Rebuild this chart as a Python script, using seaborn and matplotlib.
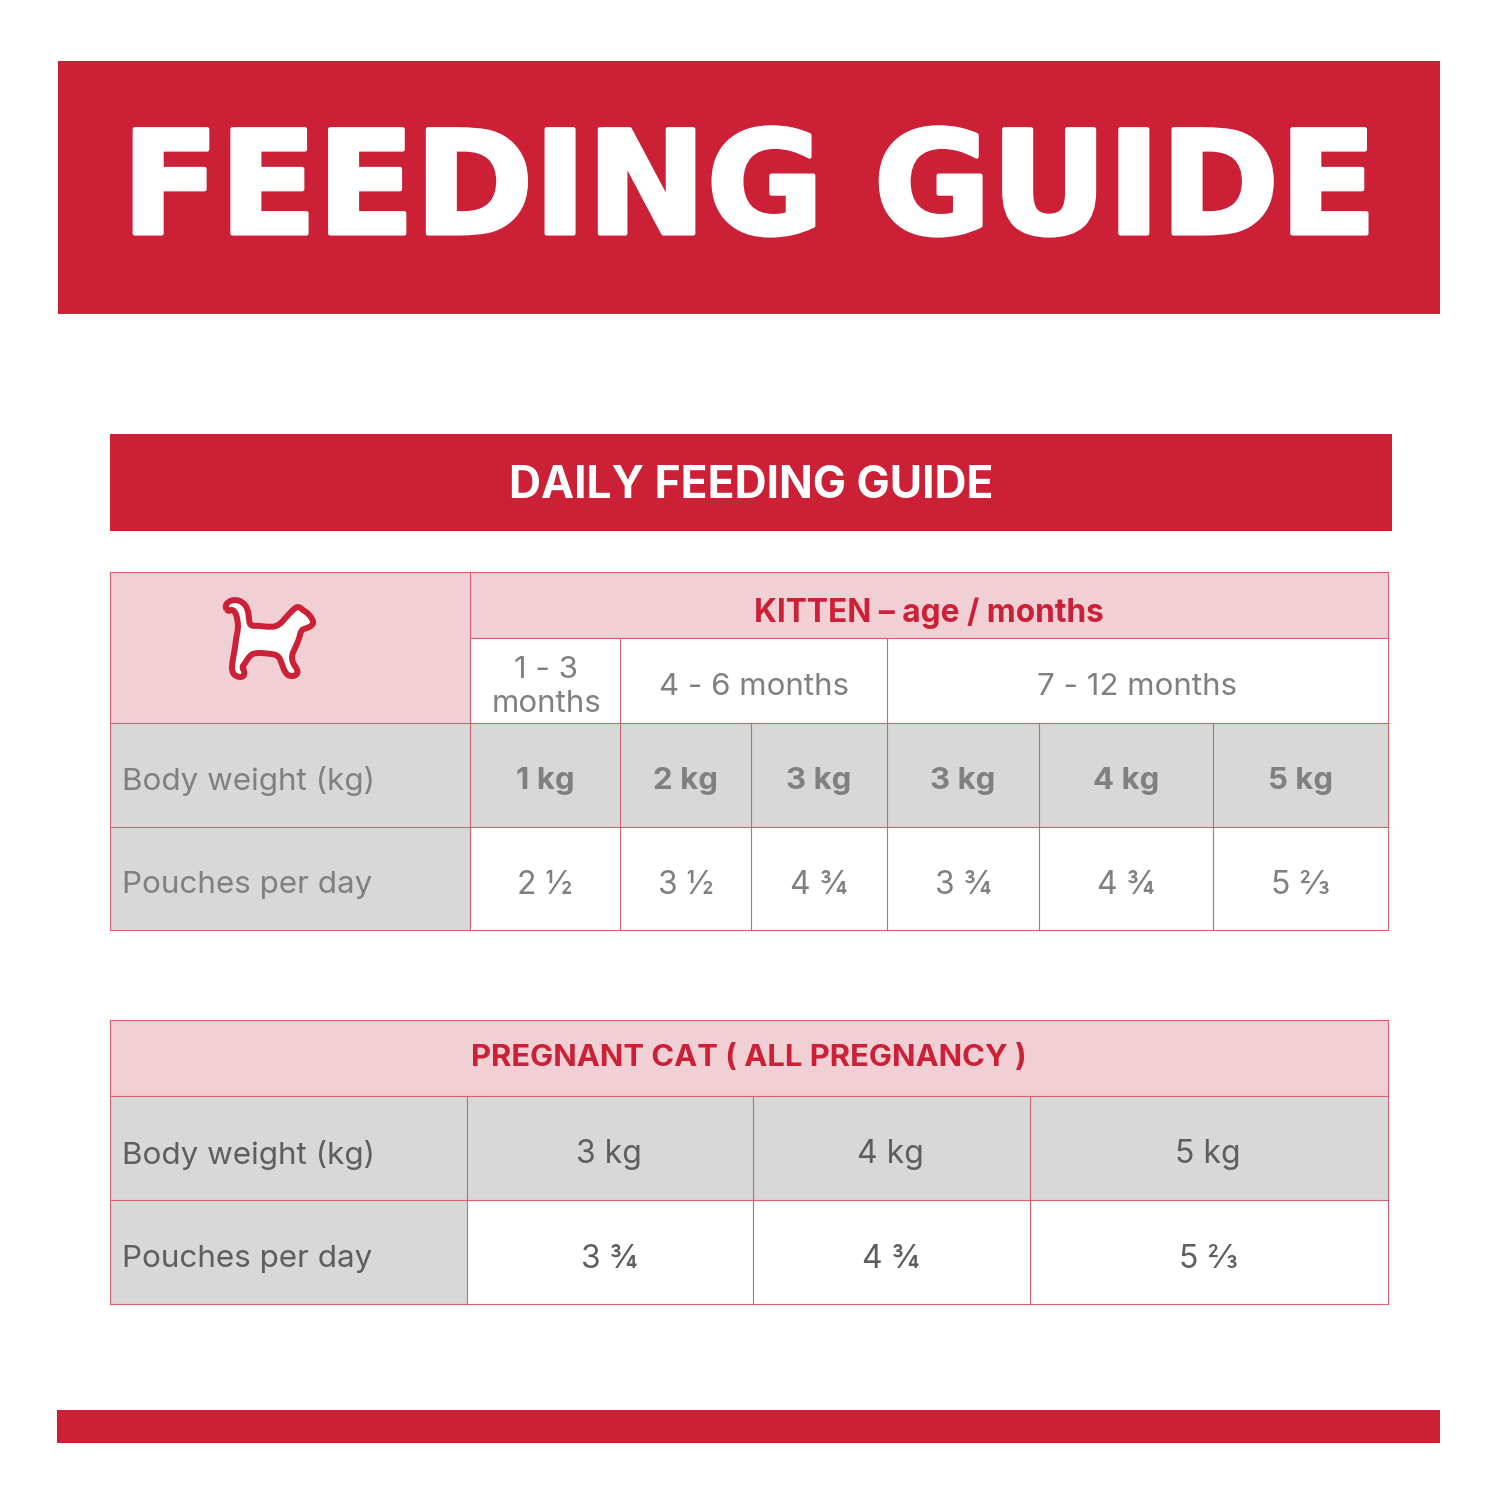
import matplotlib
matplotlib.use("Agg")
import matplotlib.pyplot as plt
import matplotlib.patheffects as pe
from matplotlib.patches import Rectangle, PathPatch
from matplotlib.path import Path
import seaborn as sns

# values
kitten_ages = ["1 - 3\nmonths", "4 - 6 months", "7 - 12 months"]
kitten_weights = ["1 kg", "2 kg", "3 kg", "3 kg", "4 kg", "5 kg"]
kitten_pouches = ["2 ½", "3 ½", "4 ¾", "3 ¾", "4 ¾", "5 ⅔"]
pregnant_weights = ["3 kg", "4 kg", "5 kg"]
pregnant_pouches = ["3 ¾", "4 ¾", "5 ⅔"]

RED = "#CB2036"
PINK = "#F0CFD5"
GREY = "#D8D8D8"
LINE = "#DA5F70"
TXT1 = "#808080"
TXT2 = "#5E5E5E"

sns.set_theme(style="white")
plt.rcParams["font.family"] = ["Inter", "DejaVu Sans"]

fig, ax = plt.subplots(figsize=(15, 15), dpi=100)
fig.subplots_adjust(0, 0, 1, 1)
ax.set_xlim(0, 1500)
ax.set_ylim(1500, 0)
ax.axis("off")


def box(x0, y0, x1, y1, color):
    ax.add_patch(Rectangle((x0, y0), x1 - x0, y1 - y0, fc=color, ec="none", zorder=1))


def label(x, y, s, size, color, weight="normal", ha="center", **kw):
    return ax.text(x, y, s, fontsize=size, color=color, fontweight=weight, ha=ha, va="center", zorder=4, **kw)


def rule(x0, y0, x1, y1):
    ax.plot([x0 - 0.5, x1 - 0.5], [y0 - 0.5, y1 - 0.5], color=LINE, lw=0.8, zorder=3, solid_capstyle="projecting")


# banners
box(58, 61, 1440, 314, RED)
box(110, 434, 1392, 531, RED)
box(57, 1410, 1440, 1443, RED)
title = label(749, 194, "FEEDING GUIDE", 103, "white", weight="bold", family="DejaVu Sans")
title.set_path_effects([pe.withStroke(linewidth=3, foreground="white", capstyle="round", joinstyle="round")])
label(751, 486, "DAILY FEEDING GUIDE", 32, "white", weight="bold")

# kitten table
cols = [110, 470, 620, 751, 887, 1039, 1213, 1388]
rows = [572, 638, 723, 827, 930]
box(cols[0], rows[0], cols[1], rows[2], PINK)
box(cols[1], rows[0], cols[-1], rows[1], PINK)
box(cols[0], rows[2], cols[-1], rows[3], GREY)
box(cols[0], rows[3], cols[1], rows[4], GREY)

for y in rows:
    rule(cols[1] if y == rows[1] else cols[0], y, cols[-1], y)
for x in (cols[0], cols[1], cols[-1]):
    rule(x, rows[0], x, rows[-1])
for x, top in zip(cols[2:-1], [rows[1], rows[2], rows[1], rows[2], rows[2]]):
    rule(x, top, x, rows[-1])

label(929, 613, "KITTEN – age / months", 22.8, RED, weight="bold")

age_centers = [546, 754, 1137]
for i, txt in enumerate(kitten_ages):
    label(age_centers[i], 687, txt, 22.5, TXT1, linespacing=1.27)

label(122, 781, "Body weight (kg)", 22.6, TXT1, ha="left")
label(122, 885, "Pouches per day", 22.6, TXT1, ha="left")
for i, (w, p) in enumerate(zip(kitten_weights, kitten_pouches)):
    cx = (cols[i + 1] + cols[i + 2]) / 2
    label(cx, 781, w, 22.5, TXT1, weight="bold")
    label(cx, 885, p, 23, TXT1)

# pregnant table
cols2 = [110, 467, 753, 1030, 1388]
rows2 = [1020, 1096, 1200, 1304]
box(cols2[0], rows2[0], cols2[-1], rows2[1], PINK)
box(cols2[0], rows2[1], cols2[-1], rows2[2], GREY)
box(cols2[0], rows2[2], cols2[1], rows2[3], GREY)
for y in rows2:
    rule(cols2[0], y, cols2[-1], y)
for x in (cols2[0], cols2[-1]):
    rule(x, rows2[0], x, rows2[-1])
for x in cols2[1:-1]:
    rule(x, rows2[1], x, rows2[-1])

label(749, 1058, "PREGNANT CAT ( ALL PREGNANCY )", 22.3, RED, weight="bold")
label(122, 1155, "Body weight (kg)", 22.6, TXT2, ha="left")
label(122, 1259, "Pouches per day", 22.6, TXT2, ha="left")
for i, (w, p) in enumerate(zip(pregnant_weights, pregnant_pouches)):
    cx = (cols2[i + 1] + cols2[i + 2]) / 2
    label(cx - 1, 1155, w, 23, TXT2)
    label(cx - 1, 1259, p, 23, TXT2)

# cat icon, traced outline
cat = [(75, 82), (82, 66), (105, 58), (128, 66), (143, 85), (147, 115), (150, 138),
       (175, 137), (215, 142), (238, 135), (258, 112), (280, 88), (295, 78), (308, 90),
       (325, 100), (342, 125), (335, 138), (318, 145), (303, 150), (298, 175), (285, 205),
       (275, 225), (278, 250), (293, 268), (292, 285), (270, 290), (255, 278), (245, 250),
       (235, 225), (200, 220), (165, 218), (148, 228), (135, 250), (125, 262), (135, 275),
       (130, 292), (108, 290), (95, 275), (97, 245), (105, 205), (108, 175), (115, 145),
       (112, 115), (105, 95), (95, 88), (85, 95)]
pts = [(200 + px / 3, 580 + py / 3) for px, py in cat]
n = len(pts)
verts = [((pts[-1][0] + pts[0][0]) / 2, (pts[-1][1] + pts[0][1]) / 2)]
codes = [Path.MOVETO]
for i in range(n):
    nxt = pts[(i + 1) % n]
    verts += [pts[i], ((pts[i][0] + nxt[0]) / 2, (pts[i][1] + nxt[1]) / 2)]
    codes += [Path.CURVE3, Path.CURVE3]
ax.add_patch(PathPatch(Path(verts, codes), fc="white", ec=RED, lw=4.3, joinstyle="round", zorder=3))

fig.savefig("out.png", dpi=100)
